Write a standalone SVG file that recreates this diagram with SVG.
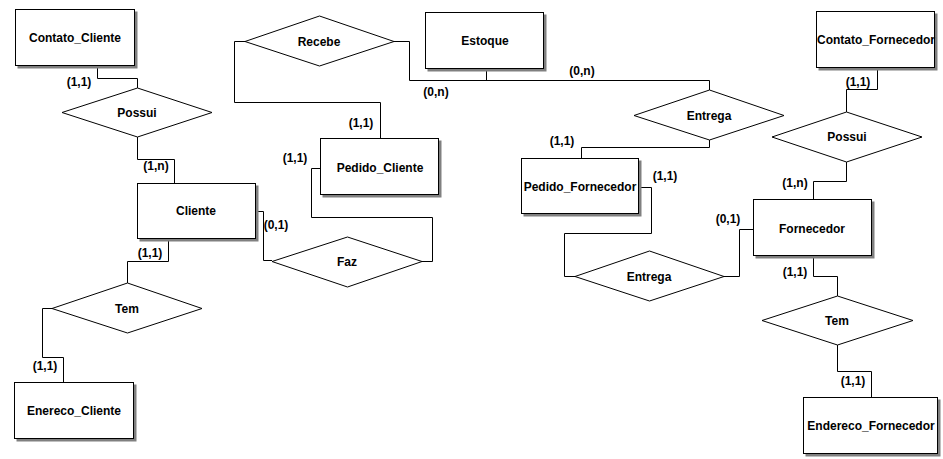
<svg xmlns="http://www.w3.org/2000/svg" width="943" height="459" viewBox="0 0 943 459">
<style>
.shadow{fill:#808080;stroke:none}
.ent{fill:#fff;stroke:#000;stroke-width:1}
.rel{fill:#fff;stroke:#000;stroke-width:1}
.conn{fill:none;stroke:#000;stroke-width:1}
text{font-family:"Liberation Sans",Arial,sans-serif;font-weight:bold;font-size:12px;fill:#000}
.lbl{text-anchor:middle;dominant-baseline:central}
.card{text-anchor:middle;dominant-baseline:central}
</style>
<rect width="943" height="459" fill="#fff"/>
<g id="connectors">
<polyline class="conn" points="97.5,66 97.5,78.5 137.5,78.5 137.5,88"/>
<polyline class="conn" points="137.5,137 137.5,159.5 174.5,159.5 174.5,183"/>
<polyline class="conn" points="256,211.5 263.5,211.5 263.5,260.5 272,260.5"/>
<polyline class="conn" points="422,261.5 432.5,261.5 432.5,217.5 311.5,217.5 311.5,168.5 320,168.5"/>
<polyline class="conn" points="168.5,239 168.5,261.5 127.5,261.5 127.5,283"/>
<polyline class="conn" points="52,308.5 42.5,308.5 42.5,357.5 63.5,357.5 63.5,382"/>
<polyline class="conn" points="245,41.5 234.5,41.5 234.5,102.5 380.5,102.5 380.5,138"/>
<polyline class="conn" points="394,41.5 409.5,41.5 409.5,80.5 709.5,80.5 709.5,90"/>
<polyline class="conn" points="486.5,69 486.5,80.5"/>
<polyline class="conn" points="709.5,140 709.5,147.5 581.5,147.5 581.5,158"/>
<polyline class="conn" points="639,187.5 651.5,187.5 651.5,233.5 564.5,233.5 564.5,276.5 575,276.5"/>
<polyline class="conn" points="724,276.5 739.5,276.5 739.5,229.5 753,229.5"/>
<polyline class="conn" points="813.5,199 813.5,181.5 846.5,181.5 846.5,162"/>
<polyline class="conn" points="846.5,112 846.5,89.5 877.5,89.5 877.5,68"/>
<polyline class="conn" points="813.5,256 813.5,276.5 837.5,276.5 837.5,296"/>
<polyline class="conn" points="837.5,345 837.5,371.5 871.5,371.5 871.5,397"/>
</g>
<g id="cardinalities">
<text class="card" x="79" y="82">(1,1)</text>
<text class="card" x="156" y="166">(1,n)</text>
<text class="card" x="276" y="225">(0,1)</text>
<text class="card" x="150" y="253">(1,1)</text>
<text class="card" x="45" y="366">(1,1)</text>
<text class="card" x="295" y="158">(1,1)</text>
<text class="card" x="361" y="123">(1,1)</text>
<text class="card" x="436" y="92">(0,n)</text>
<text class="card" x="582" y="71">(0,n)</text>
<text class="card" x="562" y="141">(1,1)</text>
<text class="card" x="665" y="176">(1,1)</text>
<text class="card" x="728" y="219">(0,1)</text>
<text class="card" x="795" y="183">(1,n)</text>
<text class="card" x="858" y="82">(1,1)</text>
<text class="card" x="795" y="272">(1,1)</text>
<text class="card" x="853" y="381">(1,1)</text>
</g>
<g id="Contato_Cliente">
<rect class="shadow" x="17.5" y="11.5" width="120" height="57"/>
<rect class="ent" x="15.5" y="9.5" width="119" height="56"/>
<text class="lbl" x="75" y="38">Contato_Cliente</text>
</g>
<g id="Possui_Cliente">
<polygon class="rel" points="62,112.5 137.5,88 212,112.5 137.5,137"/>
<text class="lbl" x="137" y="113">Possui</text>
</g>
<g id="Cliente">
<rect class="shadow" x="139.5" y="185.5" width="119" height="56"/>
<rect class="ent" x="137.5" y="183.5" width="118" height="55"/>
<text class="lbl" x="196" y="211">Cliente</text>
</g>
<g id="Tem_Cliente">
<polygon class="rel" points="52,308.5 127.5,283 202,308.5 127.5,333"/>
<text class="lbl" x="127" y="309">Tem</text>
</g>
<g id="Enereco_Cliente">
<rect class="shadow" x="16.5" y="384.5" width="120" height="57"/>
<rect class="ent" x="14.5" y="382.5" width="119" height="56"/>
<text class="lbl" x="74" y="411">Enereco_Cliente</text>
</g>
<g id="Faz">
<polygon class="rel" points="272,261.5 347.5,237 422,261.5 347.5,287"/>
<text class="lbl" x="347" y="262">Faz</text>
</g>
<g id="Recebe">
<polygon class="rel" points="245,41.5 319.5,16 394,41.5 319.5,66"/>
<text class="lbl" x="319" y="42">Recebe</text>
</g>
<g id="Pedido_Cliente">
<rect class="shadow" x="322.5" y="140.5" width="119" height="57"/>
<rect class="ent" x="320.5" y="138.5" width="118" height="56"/>
<text class="lbl" x="380" y="168">Pedido_Cliente</text>
</g>
<g id="Estoque">
<rect class="shadow" x="427.5" y="14.5" width="119" height="57"/>
<rect class="ent" x="425.5" y="12.5" width="118" height="56"/>
<text class="lbl" x="485" y="41">Estoque</text>
</g>
<g id="Entrega_Estoque">
<polygon class="rel" points="634,115.5 709.5,90 784,115.5 709.5,140"/>
<text class="lbl" x="709" y="116">Entrega</text>
</g>
<g id="Pedido_Fornecedor">
<rect class="shadow" x="523.5" y="160.5" width="118" height="56"/>
<rect class="ent" x="521.5" y="158.5" width="117" height="55"/>
<text class="lbl" x="580" y="187">Pedido_Fornecedor</text>
</g>
<g id="Entrega_Fornecedor">
<polygon class="rel" points="575,276.5 649.5,251 724,276.5 649.5,301"/>
<text class="lbl" x="649" y="277">Entrega</text>
</g>
<g id="Contato_Fornecedor">
<rect class="shadow" x="818.5" y="13.5" width="119" height="57"/>
<rect class="ent" x="816.5" y="11.5" width="118" height="56"/>
<text class="lbl" x="876" y="40">Contato_Fornecedor</text>
</g>
<g id="Possui_Fornecedor">
<polygon class="rel" points="772,137 846.5,112 922,137 846.5,162"/>
<text class="lbl" x="847" y="137">Possui</text>
</g>
<g id="Fornecedor">
<rect class="shadow" x="755.5" y="201.5" width="119" height="57"/>
<rect class="ent" x="753.5" y="199.5" width="118" height="56"/>
<text class="lbl" x="812" y="229">Fornecedor</text>
</g>
<g id="Tem_Fornecedor">
<polygon class="rel" points="762,320.5 837.5,296 913,320.5 837.5,345"/>
<text class="lbl" x="837" y="321">Tem</text>
</g>
<g id="Endereco_Fornecedor">
<rect class="shadow" x="805.5" y="399.5" width="135" height="57"/>
<rect class="ent" x="803.5" y="397.5" width="134" height="56"/>
<text class="lbl" x="871" y="426">Endereco_Fornecedor</text>
</g>
</svg>
